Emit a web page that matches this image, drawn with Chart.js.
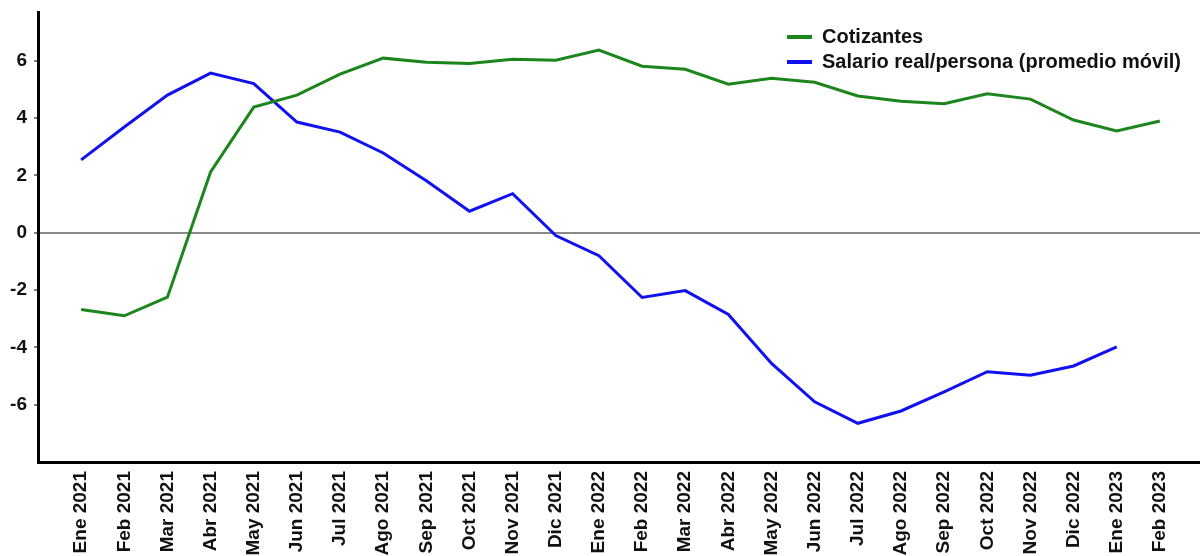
<!DOCTYPE html>
<html><head><meta charset="utf-8">
<script src="https://cdn.jsdelivr.net/npm/chart.js@4.4.1/dist/chart.umd.min.js"></script>
<style>html,body{margin:0;padding:0;background:#fff;}#wrap{width:1200px;height:556px;}</style>
</head><body><div id="wrap"><canvas id="c"></canvas></div>
<script>
const categories = ['Ene 2021','Feb 2021','Mar 2021','Abr 2021','May 2021','Jun 2021','Jul 2021','Ago 2021','Sep 2021','Oct 2021','Nov 2021','Dic 2021','Ene 2022','Feb 2022','Mar 2022','Abr 2022','May 2022','Jun 2022','Jul 2022','Ago 2022','Sep 2022','Oct 2022','Nov 2022','Dic 2022','Ene 2023','Feb 2023'];
const cotizantes = [-2.68,-2.9,-2.25,2.12,4.38,4.8,5.53,6.09,5.95,5.9,6.05,6.02,6.37,5.81,5.7,5.18,5.39,5.25,4.77,4.59,4.5,4.85,4.66,3.93,3.55,3.9];
const salario = [2.54,3.69,4.8,5.57,5.2,3.86,3.51,2.78,1.81,0.75,1.36,-0.1,-0.8,-2.26,-2.02,-2.85,-4.56,-5.9,-6.65,-6.22,-5.55,-4.85,-4.97,-4.65,-3.98,null];
const yTicks = [-6,-4,-2,0,2,4,6];
const seriesNames = ['Cotizantes','Salario real/persona (promedio móvil)'];

const FONT = "'Liberation Sans', Arial, sans-serif";
const toPts = arr => arr.map((v,i)=>({x:i,y:v}));

const legendPlugin = {
  id:'customLegend',
  afterDraw(chart){
    const ctx = chart.ctx;
    ctx.save();
    ctx.font = "bold 20px " + FONT;
    ctx.textBaseline = 'middle';
    chart.data.datasets.forEach((ds,i)=>{
      const y = 37 + i*25;
      ctx.fillStyle = ds.borderColor;
      ctx.fillRect(787, y-2, 25, 4);
      ctx.fillStyle = '#111';
      ctx.fillText(ds.label, 822, y);
    });
    ctx.restore();
  }
};

new Chart(document.getElementById('c'), {
  type:'line',
  data:{
    datasets:[
      {label:seriesNames[0], data:toPts(cotizantes), borderColor:'#1c861c', borderWidth:3, pointRadius:0, tension:0, fill:false},
      {label:seriesNames[1], data:toPts(salario), borderColor:'#1010f0', borderWidth:3, pointRadius:0, tension:0, fill:false, spanGaps:false}
    ]
  },
  options:{
    responsive:true, maintainAspectRatio:false, animation:false,
    layout:{padding:{top:12,right:0,left:0,bottom:0}},
    plugins:{legend:{display:false}, tooltip:{enabled:false}},
    scales:{
      x:{
        type:'linear', min:-1, max:25.93,
        afterBuildTicks: s => { s.ticks = categories.map((c,i)=>({value:i})); },
        afterFit: s => { s.height = 94; s.paddingLeft = 0; s.paddingRight = 0; },
        grid:{display:false, drawTicks:false},
        border:{display:true, color:'#000', width:3},
        ticks:{autoSkip:false, minRotation:90, maxRotation:90, padding:9, color:'#111',
          font:{family:FONT, size:19, weight:'bold'},
          callback: v => categories[v] }
      },
      y:{
        min:-8, max:7.7,
        afterBuildTicks: s => { s.ticks = yTicks.map(v=>({value:v})); },
        afterFit: s => { s.width = 38; s.paddingTop = 0; s.paddingBottom = 0; },
        grid:{display:true, drawOnChartArea:true, drawTicks:true, tickLength:4,
          color: c => (c.tick && c.tick.value===0) ? '#8a8a8a' : 'rgba(0,0,0,0)',
          lineWidth: c => (c.tick && c.tick.value===0) ? 2 : 0,
          tickColor:'#000', tickWidth:1},
        border:{display:true, color:'#000', width:3},
        ticks:{padding:7, color:'#111', font:{family:FONT, size:19, weight:'bold'}}
      }
    }
  },
  plugins:[legendPlugin]
});
</script></body></html>
